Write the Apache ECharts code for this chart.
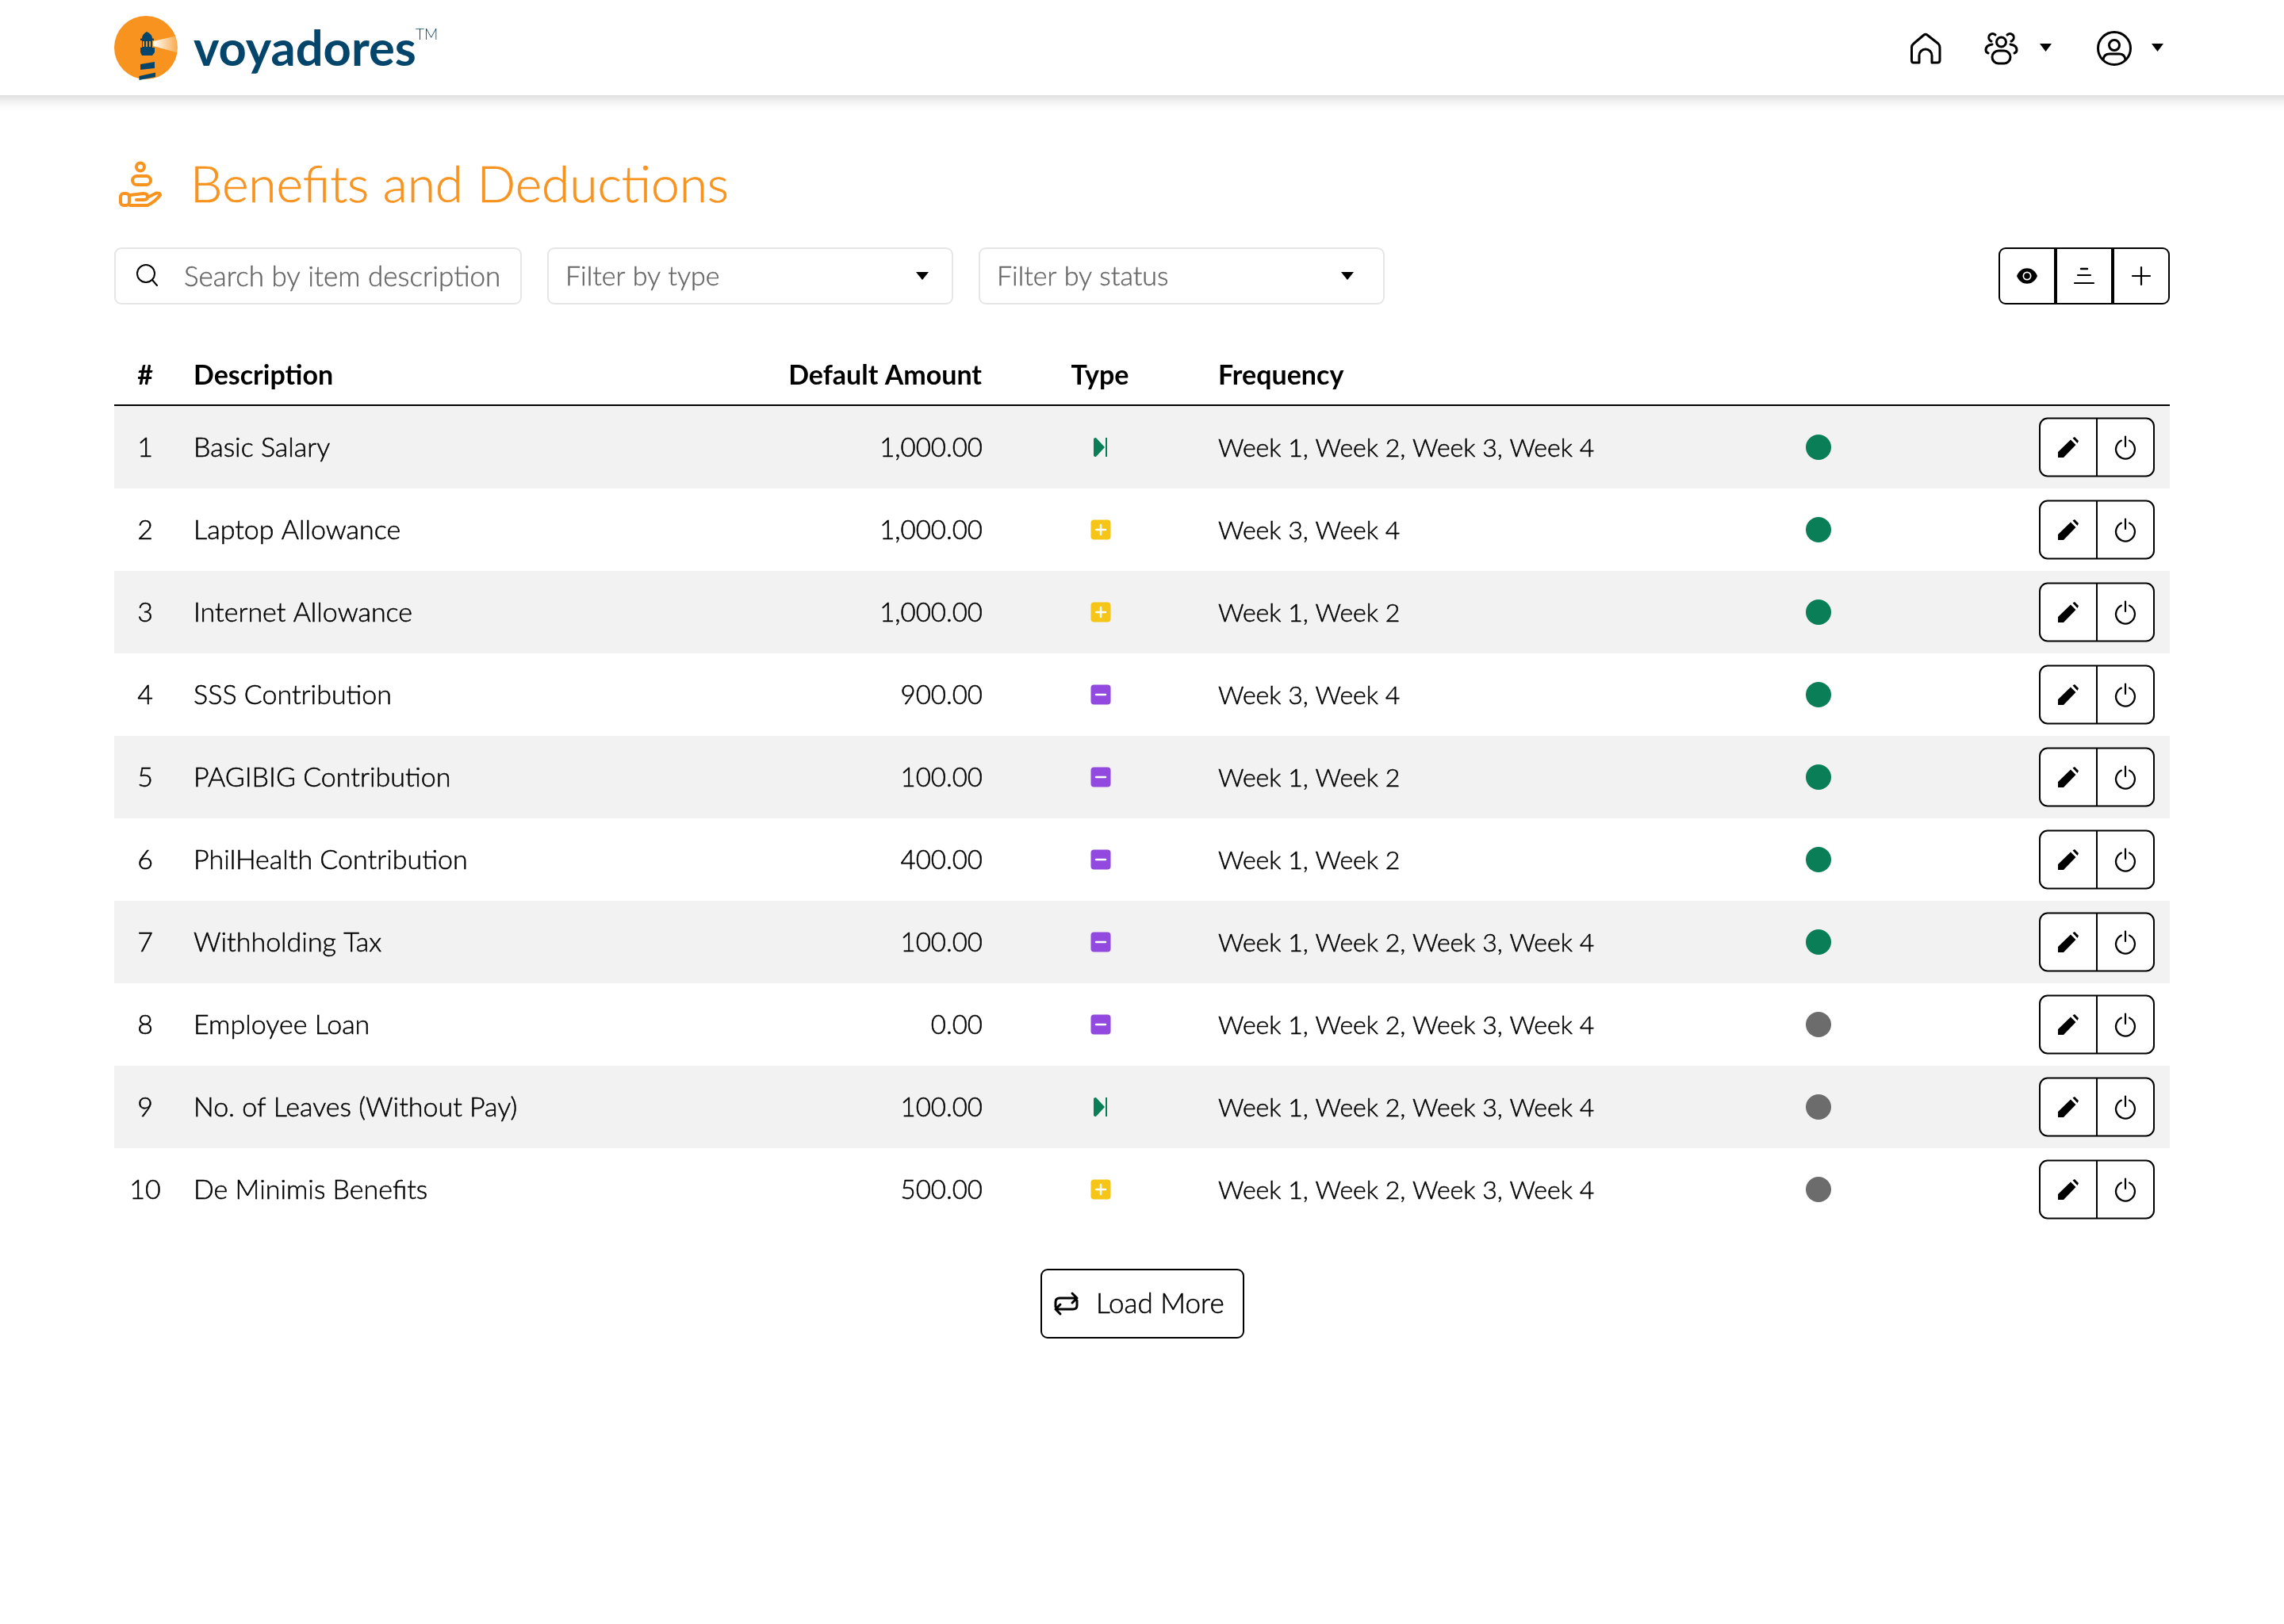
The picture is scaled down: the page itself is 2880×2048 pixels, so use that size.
<!DOCTYPE html>
<html>
<head>
<meta charset="utf-8">
<script src="https://cdn.jsdelivr.net/npm/echarts@6/dist/echarts.min.js"></script>
<style>
  html, body { margin: 0; padding: 0; background: #fff; }
  #main { width: 2880px; height: 2048px; }
</style>
</head>
<body>
<div id="main"></div>
<script>
// table content
var descriptions = ['Basic Salary', 'Laptop Allowance', 'Internet Allowance', 'SSS Contribution', 'PAGIBIG Contribution',
    'PhilHealth Contribution', 'Withholding Tax', 'Employee Loan', 'No. of Leaves (Without Pay)', 'De Minimis Benefits'];
var amounts = [1000, 1000, 1000, 900, 100, 400, 100, 0, 100, 500];
var types = ['earning', 'benefit', 'benefit', 'deduction', 'deduction', 'deduction', 'deduction', 'deduction', 'earning', 'benefit'];
var frequencies = ['Week 1, Week 2, Week 3, Week 4', 'Week 3, Week 4', 'Week 1, Week 2', 'Week 3, Week 4', 'Week 1, Week 2',
    'Week 1, Week 2', 'Week 1, Week 2, Week 3, Week 4', 'Week 1, Week 2, Week 3, Week 4', 'Week 1, Week 2, Week 3, Week 4', 'Week 1, Week 2, Week 3, Week 4'];
var statuses = [1, 1, 1, 1, 1, 1, 1, 0, 0, 0];
var headers = ['#', 'Description', 'Default Amount', 'Type', 'Frequency'];

var FONT = 'Lato';
var GREEN = '#0a7f57', YELLOW = '#f5c518', PURPLE = '#9149e0', GREY = '#6c6c6c', ORANGE = '#f7931e', NAVY = '#04466b';

// thicken: hairline outline, the screenshot's font sits between Lato Light and Regular
function label(text, x, y, size, fill, align, weight, thicken) {
    var style = {
        x: x, y: y, text: text, fill: fill || '#000', fontFamily: FONT, fontSize: size,
        fontWeight: weight || 400, align: align || 'left', verticalAlign: 'middle'
    };
    if (thicken) {
        style.stroke = fill || '#000';
        style.lineWidth = thicken;
    }
    return { type: 'text', style: style };
}
function stroke(d, width, color, x, y) {
    return {
        type: 'path', x: x || 0, y: y || 0, shape: { pathData: d },
        style: { fill: 'none', stroke: color || '#000', lineWidth: width, lineCap: 'round', lineJoin: 'round' }
    };
}
function fill(d, color, x, y) {
    return { type: 'path', x: x || 0, y: y || 0, shape: { pathData: d }, style: { fill: color || '#000' } };
}
function box(x, y, w, h, r, strokeColor, lineWidth, fillColor) {
    return {
        type: 'rect', shape: { x: x, y: y, width: w, height: h, r: r },
        style: { fill: fillColor || '#fff', stroke: strokeColor, lineWidth: lineWidth }
    };
}

function typeIcon(type, x, y) {
    if (type === 'earning') {
        return [
            fill('M-9,-10 Q-9,-12 -6,-12 L5,0 L-6,12 Q-9,12 -9,10 Z', GREEN, x, y),
            box(x + 6, y - 12, 2, 24, 0, null, 0, GREEN)
        ];
    }
    var out = [box(x - 12.5, y - 12.5, 25, 25, 4, null, 0, type === 'benefit' ? YELLOW : PURPLE)];
    out.push(stroke(type === 'benefit' ? 'M-6,0 L6,0 M0,-6 L0,6' : 'M-6,0 L6,0', 2.5, '#fff', x, y));
    return out;
}

function renderRow(params, api) {
    var i = params.dataIndex;
    var y = api.coord([0, i])[1];
    var rowH = api.size([0, 1])[1];
    var cx = function (v) { return api.coord([v, i])[0]; };
    var textY = y + 1.5;
    var children = [];
    if (i % 2 === 0) {
        children.push(box(cx(144), y - rowH / 2, cx(2736) - cx(144), rowH, 0, null, 0, '#f2f2f2'));
    }
    children.push(label(String(i + 1), cx(183), textY, 34, '#000', 'center', 300, 0.5));
    children.push(label(descriptions[i], cx(244), textY, 34, '#000', 'left', 300, 0.5));
    children.push(label(amounts[i].toLocaleString('en-US', { minimumFractionDigits: 2 }), cx(1239), textY, 33, '#000', 'right', 300, 0.5));
    children = children.concat(typeIcon(types[i], cx(1388), y));
    children.push(label(frequencies[i], cx(1536), textY, 32, '#000', 'left', 300, 0.5));
    children.push({ type: 'circle', shape: { cx: cx(2293), cy: y, r: 16 }, style: { fill: statuses[i] ? GREEN : GREY } });
    // edit / power buttons
    children.push(box(cx(2572), y - 36.5, 144, 73, 10, '#000', 2));
    children.push(box(cx(2643), y - 36.5, 2, 73, 0, null, 0, '#000'));
    children.push(fill('M-13,13 L-13,6 L3,-9.5 L9.5,-3 L-6,13 Z M5.5,-11.5 L8,-13 L13,-8 L11.5,-5 Z', '#000', cx(2608), y));
    children.push(stroke('M-5,-8.4 A12,12 0 1 0 5,-8.4 M0,-13.5 L0,-1', 2.2, '#000', cx(2680), y));
    return { type: 'group', children: children };
}

function renderChrome() {
    var c = [];
    // top bar
    c.push({
        type: 'rect', shape: { x: -20, y: -20, width: 2920, height: 140 },
        style: { fill: '#fff', shadowBlur: 16, shadowOffsetY: 4, shadowColor: 'rgba(0,0,0,0.18)' }
    });
    // logo
    c.push({ type: 'circle', shape: { cx: 184, cy: 60, r: 40 }, style: { fill: ORANGE } });
    c.push({
        type: 'polygon', shape: { points: [[193, 52], [224, 45], [226, 67], [193, 58]] },
        style: {
            fill: {
                type: 'linear', x: 0, y: 0, x2: 1, y2: 0,
                colorStops: [{ offset: 0, color: '#fff' }, { offset: 1, color: 'rgba(255,255,255,0.15)' }]
            }
        }
    });
    c.push(fill('M185,40 Q179,43 179,48.5 L177,48.5 L177,51 L179,51 L179,60 L177,60 L177,66 L179,70 L192,70 L195,66 L195,60 L192,60 L192,51 L194,51 L194,48.5 L192,48.5 Q192,43 185,40 Z', NAVY));
    c.push(fill('M180,52 L182,52 L182,59 L180,59 Z M184,52 L186,52 L186,59 L184,59 Z M188,52 L190,52 L190,59 L188,59 Z', ORANGE));
    c.push(fill('M177,81 L195,78 L195,86 L177,88 Z M175.5,96 L196,91.5 L196,97 L175.5,101 Z', NAVY));
    c.push(label('voyadores', 244, 63, 61.5, NAVY, 'left', 700));
    c.push(label('TM', 524, 44, 19, NAVY, 'left', 300));
    // nav icons
    c.push(stroke('M2410.5,60 Q2410.5,57 2413,55 L2426,44 Q2428,42.5 2430,44 L2444,55 Q2446,57 2446,60 L2446,76 Q2446,79 2443,79 L2436,79 L2436,70 A8,8 0 0 0 2420,70 L2420,79 L2413,79 Q2410.5,79 2410.5,76 Z', 3));
    c.push({ type: 'circle', shape: { cx: 2523.5, cy: 53, r: 6 }, style: { fill: 'none', stroke: '#000', lineWidth: 3 } });
    c.push(box(2512, 64, 23, 16, 8, '#000', 3));
    c.push(stroke('M2516,44 A5.5,5.5 0 0 0 2509,44 A5,5 0 0 0 2511,52 M2512,56 Q2504,57 2504,63 Q2504,66 2507,67 M2531,44 A5.5,5.5 0 0 1 2538,44 A5,5 0 0 1 2536,52 M2535,56 Q2543,57 2543,63 Q2543,66 2540,67', 3));
    c.push(fill('M-7.5,-5 L7.5,-5 L0,5 Z', '#000', 2579.5, 60));
    c.push({ type: 'circle', shape: { cx: 2666, cy: 61, r: 20.5 }, style: { fill: 'none', stroke: '#000', lineWidth: 3 } });
    c.push({ type: 'circle', shape: { cx: 2666, cy: 57, r: 6.5 }, style: { fill: 'none', stroke: '#000', lineWidth: 3 } });
    c.push(stroke('M2652,75 Q2653,68 2660,68 L2672,68 Q2679,68 2680,75', 3));
    c.push(fill('M-7.5,-5 L7.5,-5 L0,5 Z', '#000', 2720.5, 60));
    // page title
    c.push({ type: 'circle', shape: { cx: 177, cy: 210.5, r: 5 }, style: { fill: 'none', stroke: ORANGE, lineWidth: 4 } });
    c.push(box(167, 222, 23, 11, 5.5, ORANGE, 4));
    c.push(box(152, 244, 11, 15, 4, ORANGE, 4));
    c.push(stroke('M164,246 L181,244 Q186,244 186,248 Q186,252 181,252 L172,252 M186,249 L197,243.5 Q202,243 202,246 Q196,254 186,259 L164,259', 4, ORANGE));
    c.push(label('Benefits and Deductions', 240, 234, 64, ORANGE, 'left', 300, 0.6));
    // filters
    c.push(box(145, 313, 512, 70, 8, '#e6e6e6', 2));
    c.push({ type: 'circle', shape: { cx: 184, cy: 345, r: 11 }, style: { fill: 'none', stroke: '#000', lineWidth: 2 } });
    c.push(stroke('M192,353 L198,360', 2));
    c.push(label('Search by item description', 232, 349.5, 35, '#666', 'left', 300, 0.4));
    c.push(box(691, 313, 510, 70, 8, '#e6e6e6', 2));
    c.push(label('Filter by type', 713, 349.5, 34, '#666', 'left', 300, 0.4));
    c.push(fill('M-8,-5 L8,-5 L0,5 Z', '#000', 1163, 348));
    c.push(box(1235, 313, 510, 70, 8, '#e6e6e6', 2));
    c.push(label('Filter by status', 1257, 349.5, 34, '#666', 'left', 300, 0.4));
    c.push(fill('M-8,-5 L8,-5 L0,5 Z', '#000', 1699, 348));
    // toolbar
    c.push(box(2521, 313, 214, 70, 8, '#000', 2));
    c.push(box(2590, 313, 4, 70, 0, null, 0, '#000'));
    c.push(box(2662, 313, 4, 70, 0, null, 0, '#000'));
    c.push(fill('M-13,0 C-8,-13 8,-13 13,0 C8,13 -8,13 -13,0 Z', '#000', 2556, 348));
    c.push({ type: 'circle', shape: { cx: 2556, cy: 348, r: 5.5 }, style: { fill: '#fff' } });
    c.push({ type: 'circle', shape: { cx: 2556, cy: 348, r: 3.8 }, style: { fill: '#000' } });
    c.push(stroke('M2624,339 L2632,339', 2.4));
    c.push(stroke('M2620,347 L2636,347 M2616,357 L2640,357', 2.2));
    c.push(stroke('M2689,348 L2711,348 M2700,337 L2700,359', 2.2));
    // table head
    c.push(label(headers[0], 183, 474, 34, '#000', 'center', 700));
    c.push(label(headers[1], 244, 474, 34, '#000', 'left', 700));
    c.push(label(headers[2], 1238, 474, 34, '#000', 'right', 700));
    c.push(label(headers[3], 1387, 474, 34, '#000', 'center', 700));
    c.push(label(headers[4], 1536, 474, 34, '#000', 'left', 700));
    c.push(box(144, 510, 2592, 2, 0, null, 0, '#000'));
    // load more
    c.push(box(1313, 1601, 255, 86, 8, '#000', 2));
    c.push(stroke('M1331,1648 L1331,1642 Q1331,1637 1336,1637 L1358,1637 M1352,1631 L1358,1637 L1352,1643 M1358,1640 L1358,1646 Q1358,1651 1353,1651 L1331,1651 M1337,1645 L1331,1651 L1337,1657', 3));
    c.push(label('Load More', 1382, 1645, 35, '#000', 'left', 300, 0.5));
    return { type: 'group', children: c };
}

var chart = echarts.init(document.getElementById('main'), null, { renderer: 'canvas' });
chart.setOption({
    animation: false,
    backgroundColor: '#fff',
    grid: { left: 0, right: 0, top: 512, height: 1040 },
    xAxis: { type: 'value', min: 0, max: 2880, show: false },
    yAxis: { type: 'category', inverse: true, show: false, data: descriptions },
    series: [{
        type: 'custom',
        coordinateSystem: 'cartesian2d',
        clip: false,
        renderItem: renderRow,
        encode: { x: 0, y: 1 },
        data: descriptions.map(function (d, i) { return [0, i]; })
    }, {
        type: 'custom',
        coordinateSystem: 'none',
        renderItem: renderChrome,
        data: [0]
    }]
});
</script>
</body>
</html>
